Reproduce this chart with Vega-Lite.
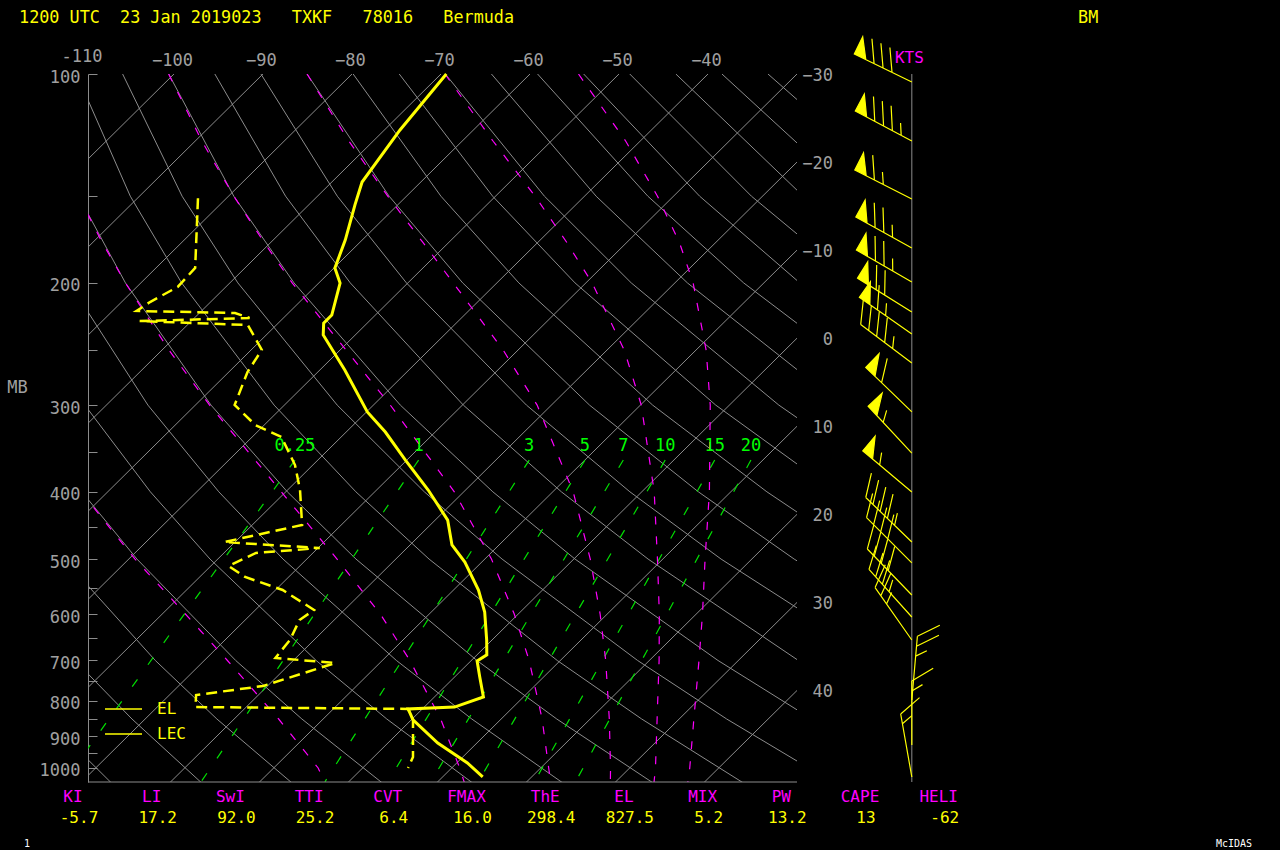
{
  "$schema": "https://vega.github.io/schema/vega-lite/v6.json",
  "width": 709,
  "height": 708,
  "autosize": {"type": "none"},
  "padding": {"left": 88, "top": 74, "right": 483, "bottom": 68},
  "background": "#000000",
  "config": {"view": {"stroke": null}, "text": {"font": "DejaVu Sans Mono"}},
  "datasets": {
    "iso": [
      {"T": -100, "p": 100}, {"T": -100, "p": 1050}, {"T": -90, "p": 100}, {"T": -90, "p": 1050},
      {"T": -80, "p": 100}, {"T": -80, "p": 1050}, {"T": -70, "p": 100}, {"T": -70, "p": 1050},
      {"T": -60, "p": 100}, {"T": -60, "p": 1050}, {"T": -50, "p": 100}, {"T": -50, "p": 1050},
      {"T": -40, "p": 100}, {"T": -40, "p": 1050}, {"T": -30, "p": 100}, {"T": -30, "p": 1050},
      {"T": -20, "p": 100}, {"T": -20, "p": 1050}, {"T": -10, "p": 100}, {"T": -10, "p": 1050},
      {"T": 0, "p": 100}, {"T": 0, "p": 1050}, {"T": 10, "p": 100}, {"T": 10, "p": 1050},
      {"T": 20, "p": 100}, {"T": 20, "p": 1050}, {"T": 30, "p": 100}, {"T": 30, "p": 1050},
      {"T": 40, "p": 100}, {"T": 40, "p": 1050}
    ],
    "isolab": [
      {"T": -30, "p": 100}, {"T": -20, "p": 133.9}, {"T": -10, "p": 179.4}, {"T": 0, "p": 240.3},
      {"T": 10, "p": 321.8}, {"T": 20, "p": 431.0}, {"T": 30, "p": 577.2}, {"T": 40, "p": 773.1}
    ],
    "dry": [
      {"c": -30, "p": 1050, "T": -26.59}, {"c": -30, "p": 850, "T": -41.03},
      {"c": -20, "p": 1050, "T": -16.45}, {"c": -20, "p": 850, "T": -31.48}, {"c": -20, "p": 700, "T": -44.53},
      {"c": -10, "p": 1050, "T": -6.31}, {"c": -10, "p": 850, "T": -21.94}, {"c": -10, "p": 700, "T": -35.5}, {"c": -10, "p": 500, "T": -57.28},
      {"c": 0, "p": 1050, "T": 3.84}, {"c": 0, "p": 850, "T": -12.39}, {"c": 0, "p": 700, "T": -26.47}, {"c": 0, "p": 500, "T": -49.08}, {"c": 0, "p": 400, "T": -62.91},
      {"c": 10, "p": 1050, "T": 13.98}, {"c": 10, "p": 850, "T": -2.85}, {"c": 10, "p": 700, "T": -17.43}, {"c": 10, "p": 500, "T": -40.87}, {"c": 10, "p": 400, "T": -55.21}, {"c": 10, "p": 300, "T": -72.42},
      {"c": 20, "p": 1050, "T": 24.12}, {"c": 20, "p": 850, "T": 6.7}, {"c": 20, "p": 700, "T": -8.41}, {"c": 20, "p": 500, "T": -32.67}, {"c": 20, "p": 400, "T": -47.52}, {"c": 20, "p": 300, "T": -65.33}, {"c": 20, "p": 200, "T": -88.05},
      {"c": 30, "p": 1050, "T": 34.26}, {"c": 30, "p": 850, "T": 16.25}, {"c": 30, "p": 700, "T": 0.63}, {"c": 30, "p": 500, "T": -24.47}, {"c": 30, "p": 400, "T": -39.82}, {"c": 30, "p": 300, "T": -58.24}, {"c": 30, "p": 200, "T": -81.73}, {"c": 30, "p": 150, "T": -96.85},
      {"c": 40, "p": 1050, "T": 44.4}, {"c": 40, "p": 850, "T": 25.79}, {"c": 40, "p": 700, "T": 9.66}, {"c": 40, "p": 500, "T": -16.26}, {"c": 40, "p": 400, "T": -32.12}, {"c": 40, "p": 300, "T": -51.15}, {"c": 40, "p": 200, "T": -75.42}, {"c": 40, "p": 150, "T": -91.03}, {"c": 40, "p": 100, "T": -110.95},
      {"c": 50, "p": 1050, "T": 54.54}, {"c": 50, "p": 850, "T": 35.34}, {"c": 50, "p": 700, "T": 18.69}, {"c": 50, "p": 500, "T": -8.06}, {"c": 50, "p": 400, "T": -24.43}, {"c": 50, "p": 300, "T": -44.06}, {"c": 50, "p": 200, "T": -69.1}, {"c": 50, "p": 150, "T": -85.21}, {"c": 50, "p": 100, "T": -105.77},
      {"c": 60, "p": 850, "T": 44.89}, {"c": 60, "p": 700, "T": 27.72}, {"c": 60, "p": 500, "T": 0.14}, {"c": 60, "p": 400, "T": -16.73}, {"c": 60, "p": 300, "T": -36.97}, {"c": 60, "p": 200, "T": -62.79}, {"c": 60, "p": 150, "T": -79.4}, {"c": 60, "p": 100, "T": -100.59},
      {"c": 70, "p": 850, "T": 54.43}, {"c": 70, "p": 700, "T": 36.75}, {"c": 70, "p": 500, "T": 8.35}, {"c": 70, "p": 400, "T": -9.03}, {"c": 70, "p": 300, "T": -29.89}, {"c": 70, "p": 200, "T": -56.47}, {"c": 70, "p": 150, "T": -73.58}, {"c": 70, "p": 100, "T": -95.41},
      {"c": 80, "p": 700, "T": 45.78}, {"c": 80, "p": 500, "T": 16.55}, {"c": 80, "p": 400, "T": -1.33}, {"c": 80, "p": 300, "T": -22.8}, {"c": 80, "p": 200, "T": -50.16}, {"c": 80, "p": 150, "T": -67.77}, {"c": 80, "p": 100, "T": -90.23},
      {"c": 90, "p": 700, "T": 54.81}, {"c": 90, "p": 500, "T": 24.76}, {"c": 90, "p": 400, "T": 6.36}, {"c": 90, "p": 300, "T": -15.71}, {"c": 90, "p": 200, "T": -43.84}, {"c": 90, "p": 150, "T": -61.95}, {"c": 90, "p": 100, "T": -85.05},
      {"c": 100, "p": 500, "T": 32.96}, {"c": 100, "p": 400, "T": 14.06}, {"c": 100, "p": 300, "T": -8.62}, {"c": 100, "p": 200, "T": -37.53}, {"c": 100, "p": 150, "T": -56.13}, {"c": 100, "p": 100, "T": -79.87},
      {"c": 110, "p": 500, "T": 41.16}, {"c": 110, "p": 400, "T": 21.76}, {"c": 110, "p": 300, "T": -1.53}, {"c": 110, "p": 200, "T": -31.22}, {"c": 110, "p": 150, "T": -50.32}, {"c": 110, "p": 100, "T": -74.69},
      {"c": 120, "p": 400, "T": 29.45}, {"c": 120, "p": 300, "T": 5.56}, {"c": 120, "p": 200, "T": -24.9}, {"c": 120, "p": 150, "T": -44.5}, {"c": 120, "p": 100, "T": -69.51},
      {"c": 130, "p": 300, "T": 12.65}, {"c": 130, "p": 200, "T": -18.59}, {"c": 130, "p": 150, "T": -38.69}, {"c": 130, "p": 100, "T": -64.33},
      {"c": 140, "p": 300, "T": 19.74}, {"c": 140, "p": 200, "T": -12.27}, {"c": 140, "p": 150, "T": -32.88}, {"c": 140, "p": 100, "T": -59.15},
      {"c": 150, "p": 300, "T": 26.83}, {"c": 150, "p": 200, "T": -5.96}, {"c": 150, "p": 150, "T": -27.06}, {"c": 150, "p": 100, "T": -53.97},
      {"c": 160, "p": 200, "T": 0.36}, {"c": 160, "p": 150, "T": -21.24}, {"c": 160, "p": 100, "T": -48.79},
      {"c": 170, "p": 200, "T": 6.67}, {"c": 170, "p": 150, "T": -15.42}, {"c": 170, "p": 100, "T": -43.61},
      {"c": 180, "p": 200, "T": 12.99}, {"c": 180, "p": 150, "T": -9.61}, {"c": 180, "p": 100, "T": -38.43},
      {"c": 190, "p": 200, "T": 19.31}, {"c": 190, "p": 150, "T": -3.79}, {"c": 190, "p": 100, "T": -33.26}
    ],
    "moist": [
      {"te": 273, "p": 1050, "T": -2.6}, {"te": 273, "p": 1000, "T": -5.0}, {"te": 273, "p": 850, "T": -15.0}, {"te": 273, "p": 700, "T": -27.4}, {"te": 273, "p": 600, "T": -37.4}, {"te": 273, "p": 500, "T": -49.3}, {"te": 273, "p": 400, "T": -63.0},
      {"te": 303, "p": 1050, "T": 13.1}, {"te": 303, "p": 1000, "T": 10.9}, {"te": 303, "p": 850, "T": 3.2}, {"te": 303, "p": 700, "T": -6.9}, {"te": 303, "p": 600, "T": -15.5}, {"te": 303, "p": 500, "T": -26.6}, {"te": 303, "p": 400, "T": -40.5}, {"te": 303, "p": 300, "T": -58.4}, {"te": 303, "p": 250, "T": -69.2}, {"te": 303, "p": 200, "T": -81.73}, {"te": 303, "p": 175, "T": -88.9}, {"te": 303, "p": 150, "T": -96.85},
      {"te": 333, "p": 1050, "T": 22.8}, {"te": 333, "p": 1000, "T": 20.9}, {"te": 333, "p": 850, "T": 14.6}, {"te": 333, "p": 700, "T": 6.5}, {"te": 333, "p": 600, "T": -0.45}, {"te": 333, "p": 500, "T": -9.25}, {"te": 333, "p": 400, "T": -21.06}, {"te": 333, "p": 300, "T": -38.1}, {"te": 333, "p": 250, "T": -49.3}, {"te": 333, "p": 200, "T": -63.0}, {"te": 333, "p": 175, "T": -70.7}, {"te": 333, "p": 150, "T": -79.4}, {"te": 333, "p": 125, "T": -89.22}, {"te": 333, "p": 100, "T": -100.6},
      {"te": 363, "p": 1050, "T": 29.5}, {"te": 363, "p": 1000, "T": 27.85}, {"te": 363, "p": 850, "T": 22.15}, {"te": 363, "p": 700, "T": 15.1}, {"te": 363, "p": 600, "T": 9.2}, {"te": 363, "p": 500, "T": 1.85}, {"te": 363, "p": 400, "T": -7.7}, {"te": 363, "p": 300, "T": -21.6}, {"te": 363, "p": 250, "T": -31.65}, {"te": 363, "p": 200, "T": -44.9}, {"te": 363, "p": 175, "T": -52.86}, {"te": 363, "p": 150, "T": -62.1}, {"te": 363, "p": 125, "T": -72.7}, {"te": 363, "p": 100, "T": -85.05},
      {"te": 393, "p": 1050, "T": 34.4}, {"te": 393, "p": 1000, "T": 32.9}, {"te": 393, "p": 850, "T": 27.52}, {"te": 393, "p": 700, "T": 21.1}, {"te": 393, "p": 600, "T": 15.85}, {"te": 393, "p": 500, "T": 9.4}, {"te": 393, "p": 400, "T": 1.4}, {"te": 393, "p": 300, "T": -9.9}, {"te": 393, "p": 250, "T": -18.05}, {"te": 393, "p": 200, "T": -29.3}, {"te": 393, "p": 175, "T": -36.7}, {"te": 393, "p": 150, "T": -45.55}, {"te": 393, "p": 125, "T": -56.5}, {"te": 393, "p": 100, "T": -69.55},
      {"te": 423, "p": 1050, "T": 38.2}, {"te": 423, "p": 1000, "T": 36.75}, {"te": 423, "p": 850, "T": 31.65}, {"te": 423, "p": 700, "T": 25.58}, {"te": 423, "p": 600, "T": 20.7}, {"te": 423, "p": 500, "T": 14.75}, {"te": 423, "p": 400, "T": 7.6}, {"te": 423, "p": 300, "T": -2.15}, {"te": 423, "p": 250, "T": -8.85}, {"te": 423, "p": 200, "T": -17.95}, {"te": 423, "p": 175, "T": -24.05}, {"te": 423, "p": 150, "T": -31.8}, {"te": 423, "p": 125, "T": -41.6}, {"te": 423, "p": 100, "T": -54.55}
    ],
    "mix": [
      {"w": "0.25", "p": 1047, "T": -32.0}, {"w": "0.25", "p": 360, "T": -42.57},
      {"w": "1", "p": 1047, "T": -16.58}, {"w": "1", "p": 360, "T": -28.68},
      {"w": "3", "p": 1047, "T": -2.67}, {"w": "3", "p": 360, "T": -16.25},
      {"w": "5", "p": 1047, "T": 4.38}, {"w": "5", "p": 360, "T": -9.99},
      {"w": "7", "p": 1047, "T": 9.23}, {"w": "7", "p": 360, "T": -5.68},
      {"w": "10", "p": 1047, "T": 14.56}, {"w": "10", "p": 360, "T": -0.97},
      {"w": "15", "p": 1047, "T": 20.87}, {"w": "15", "p": 360, "T": 4.59},
      {"w": "20", "p": 1047, "T": 25.49}, {"w": "20", "p": 360, "T": 8.66}
    ],
    "temp": [
      {"p": 100, "T": -69.4}, {"p": 120.4, "T": -68.25}, {"p": 143.1, "T": -66.6}, {"p": 154.4, "T": -64.8},
      {"p": 173.5, "T": -61.9}, {"p": 190.3, "T": -59.9}, {"p": 200.1, "T": -57.6}, {"p": 222.5, "T": -54.9},
      {"p": 228.5, "T": -54.9}, {"p": 237.7, "T": -53.6}, {"p": 267, "T": -47.2}, {"p": 306.9, "T": -39.9},
      {"p": 328, "T": -35.6}, {"p": 359.8, "T": -30.2}, {"p": 397.6, "T": -24.2}, {"p": 439.3, "T": -18.6},
      {"p": 477, "T": -15.3}, {"p": 505, "T": -11.9}, {"p": 554, "T": -7.2}, {"p": 596, "T": -4.0},
      {"p": 654, "T": -0.6}, {"p": 687, "T": 1.1}, {"p": 701, "T": 0.7}, {"p": 739, "T": 2.8},
      {"p": 790, "T": 5.5}, {"p": 817, "T": 3.4}, {"p": 822, "T": -1.6}, {"p": 852.6, "T": 0.2},
      {"p": 920.4, "T": 5.6}, {"p": 983.5, "T": 11.2}, {"p": 1030, "T": 14.5}
    ],
    "dew": [
      {"p": 151, "T": -83.2}, {"p": 190.3, "T": -75.6}, {"p": 202.7, "T": -75.4}, {"p": 213.1, "T": -76.8},
      {"p": 219.5, "T": -77.3}, {"p": 221, "T": -66.0}, {"p": 224.7, "T": -63.8}, {"p": 227, "T": -75.8},
      {"p": 230, "T": -63.2}, {"p": 249.8, "T": -58.8}, {"p": 268.8, "T": -57.9}, {"p": 299.9, "T": -55.6},
      {"p": 320.5, "T": -51.0}, {"p": 333.5, "T": -46.7}, {"p": 366, "T": -42.0}, {"p": 397.6, "T": -38.6},
      {"p": 446.5, "T": -34.4}, {"p": 472.5, "T": -41.2}, {"p": 482, "T": -29.8}, {"p": 490, "T": -36.4},
      {"p": 511.6, "T": -38.0}, {"p": 530.6, "T": -34.9}, {"p": 554, "T": -29.2}, {"p": 592, "T": -23.4},
      {"p": 612, "T": -23.9}, {"p": 654, "T": -22.7}, {"p": 694, "T": -22.3}, {"p": 706, "T": -15.0},
      {"p": 761.8, "T": -20.5}, {"p": 785, "T": -27.0}, {"p": 817, "T": -25.7}, {"p": 822, "T": -1.6},
      {"p": 852.6, "T": 0.2}, {"p": 964, "T": 4.4}, {"p": 1000, "T": 5.1}
    ],
    "wind": [
      {"p": 102.7, "dir": 296, "spd": 80}, {"p": 124.9, "dir": 298, "spd": 85}, {"p": 151.4, "dir": 297, "spd": 65},
      {"p": 178.1, "dir": 299, "spd": 75}, {"p": 199.4, "dir": 300, "spd": 75}, {"p": 220.3, "dir": 302, "spd": 70},
      {"p": 237.0, "dir": 305, "spd": 65}, {"p": 260.9, "dir": 307, "spd": 45}, {"p": 306.8, "dir": 314, "spd": 60},
      {"p": 351.7, "dir": 317, "spd": 55}, {"p": 400.2, "dir": 310, "spd": 55}, {"p": 472.4, "dir": 314, "spd": 45},
      {"p": 506.4, "dir": 315, "spd": 40}, {"p": 563.3, "dir": 316, "spd": 40}, {"p": 605.9, "dir": 318, "spd": 35},
      {"p": 654.0, "dir": 325, "spd": 25}, {"p": 798, "dir": 5, "spd": 25}, {"p": 926.7, "dir": 0, "spd": 15},
      {"p": 1030.4, "dir": 350, "spd": 15}
    ],
    "idx": [
      {"i": 0, "k": "KI", "v": "-5.7"}, {"i": 1, "k": "LI", "v": "17.2"}, {"i": 2, "k": "SwI", "v": "92.0"},
      {"i": 3, "k": "TTI", "v": "25.2"}, {"i": 4, "k": "CVT", "v": "6.4"}, {"i": 5, "k": "FMAX", "v": "16.0"},
      {"i": 6, "k": "ThE", "v": "298.4"}, {"i": 7, "k": "EL", "v": "827.5"}, {"i": 8, "k": "MIX", "v": "5.2"},
      {"i": 9, "k": "PW", "v": "13.2"}, {"i": 10, "k": "CAPE", "v": "13"}, {"i": 11, "k": "HELI", "v": "-62"}
    ]
  },
  "resolve": {"scale": {"x": "independent"}},
  "layer": [
    {
      "layer": [
        {
          "data": {"name": "iso"},
          "transform": [{"calculate": "datum.T - 78.8 * (log(datum.p) / LN10 - 2)", "as": "xs"}],
          "mark": {"type": "line", "clip": true, "color": "#8c8c8c", "strokeWidth": 1},
          "encoding": {
            "x": {"field": "xs", "type": "quantitative", "scale": {"domain": [-109.66, -30], "nice": false, "zero": false},
              "axis": {"orient": "top", "values": [-100, -90, -80, -70, -60, -50, -40], "format": "d", "ticks": false, "domain": false, "grid": false,
                "labelColor": "#a0a0a0", "labelFont": "DejaVu Sans Mono", "labelFontSize": 17, "labelPadding": 5, "labelOffset": -2,
                "labelFlush": false, "labelOverlap": false, "title": null}},
            "y": {"field": "p", "type": "quantitative", "scale": {"type": "log", "domain": [100, 1047.6], "reverse": true, "nice": false},
              "axis": {"orient": "left", "values": [100, 150, 200, 250, 300, 350, 400, 450, 500, 550, 600, 650, 700, 750, 800, 850, 900, 950, 1000],
                "labelExpr": "datum.value % 100 == 0 ? format(datum.value, 'd') : ''", "tickSize": -9, "tickColor": "#8c8c8c", "domainColor": "#8c8c8c",
                "labelColor": "#a0a0a0", "labelFont": "DejaVu Sans Mono", "labelFontSize": 17, "labelPadding": 17, "labelOffset": 3, "grid": false,
                "labelFlush": false, "labelOverlap": false, "title": "MB", "titleAngle": 0, "titleX": -71, "titleY": 313, "titleAlign": "center",
                "titleBaseline": "middle", "titleColor": "#a0a0a0", "titleFont": "DejaVu Sans Mono", "titleFontSize": 17, "titleFontWeight": "normal"}},
            "detail": {"field": "T", "type": "nominal"},
            "order": {"field": "p", "type": "quantitative"}
          }
        },
        {
          "data": {"name": "dry"},
          "transform": [{"calculate": "datum.T - 78.8 * (log(datum.p) / LN10 - 2)", "as": "xs"}],
          "mark": {"type": "line", "clip": true, "color": "#8c8c8c", "strokeWidth": 1},
          "encoding": {
            "x": {"field": "xs", "type": "quantitative", "scale": {"domain": [-109.66, -30], "nice": false, "zero": false}},
            "y": {"field": "p", "type": "quantitative", "scale": {"type": "log", "domain": [100, 1047.6], "reverse": true, "nice": false}},
            "detail": {"field": "c", "type": "nominal"},
            "order": {"field": "p", "type": "quantitative"}
          }
        },
        {
          "data": {"name": "mix"},
          "transform": [{"calculate": "datum.T - 78.8 * (log(datum.p) / LN10 - 2)", "as": "xs"}],
          "mark": {"type": "line", "clip": true, "color": "#00e000", "strokeWidth": 1.2, "strokeDash": [9, 18]},
          "encoding": {
            "x": {"field": "xs", "type": "quantitative", "scale": {"domain": [-109.66, -30], "nice": false, "zero": false}},
            "y": {"field": "p", "type": "quantitative", "scale": {"type": "log", "domain": [100, 1047.6], "reverse": true, "nice": false}},
            "detail": {"field": "w", "type": "nominal"},
            "order": {"field": "p", "type": "quantitative"}
          }
        },
        {
          "data": {"name": "moist"},
          "transform": [{"calculate": "datum.T - 78.8 * (log(datum.p) / LN10 - 2)", "as": "xs"}],
          "mark": {"type": "line", "clip": true, "color": "#ff00ff", "strokeWidth": 1.2, "strokeDash": [8, 12]},
          "encoding": {
            "x": {"field": "xs", "type": "quantitative", "scale": {"domain": [-109.66, -30], "nice": false, "zero": false}},
            "y": {"field": "p", "type": "quantitative", "scale": {"type": "log", "domain": [100, 1047.6], "reverse": true, "nice": false}},
            "detail": {"field": "te", "type": "nominal"},
            "order": {"field": "p", "type": "quantitative"}
          }
        },
        {
          "data": {"name": "isolab"},
          "transform": [{"calculate": "datum.T - 78.8 * (log(datum.p) / LN10 - 2)", "as": "xs"}],
          "mark": {"type": "text", "color": "#a0a0a0", "fontSize": 17, "font": "DejaVu Sans Mono", "align": "right", "baseline": "middle", "dx": 36, "dy": 2},
          "encoding": {
            "x": {"field": "xs", "type": "quantitative", "scale": {"domain": [-109.66, -30], "nice": false, "zero": false}},
            "y": {"field": "p", "type": "quantitative", "scale": {"type": "log", "domain": [100, 1047.6], "reverse": true, "nice": false}},
            "text": {"field": "T", "type": "quantitative", "format": "d"}
          }
        },
        {
          "data": {"values": [{"t": "-110"}]},
          "mark": {"type": "text", "color": "#a0a0a0", "fontSize": 17, "font": "DejaVu Sans Mono", "align": "center", "baseline": "middle", "dx": -3, "dy": -3},
          "encoding": {
            "x": {"datum": -110, "type": "quantitative", "scale": {"domain": [-109.66, -30], "nice": false, "zero": false}},
            "y": {"datum": 95.6, "type": "quantitative", "scale": {"type": "log", "domain": [100, 1047.6], "reverse": true, "nice": false}},
            "text": {"field": "t"}
          }
        },
        {
          "data": {"name": "mix"},
          "transform": [{"filter": "datum.p < 500"}, {"calculate": "datum.T - 78.8 * (log(datum.p) / LN10 - 2)", "as": "xs"}],
          "mark": {"type": "text", "color": "#00ff00", "fontSize": 17, "font": "DejaVu Sans Mono", "align": "center", "baseline": "middle", "dy": -14},
          "encoding": {
            "x": {"field": "xs", "type": "quantitative", "scale": {"domain": [-109.66, -30], "nice": false, "zero": false}},
            "y": {"field": "p", "type": "quantitative", "scale": {"type": "log", "domain": [100, 1047.6], "reverse": true, "nice": false}},
            "text": {"field": "w", "type": "nominal"}
          }
        },
        {
          "data": {"values": [{}]},
          "mark": {"type": "rule", "color": "#ffff00", "strokeWidth": 1.5},
          "encoding": {
            "x": {"datum": -107.75, "type": "quantitative", "scale": {"domain": [-109.66, -30], "nice": false, "zero": false}},
            "x2": {"datum": -103.59},
            "y": {"datum": 822.3, "type": "quantitative", "scale": {"type": "log", "domain": [100, 1047.6], "reverse": true, "nice": false}}
          }
        },
        {
          "data": {"values": [{}]},
          "mark": {"type": "rule", "color": "#ffff00", "strokeWidth": 1.5},
          "encoding": {
            "x": {"datum": -107.75, "type": "quantitative", "scale": {"domain": [-109.66, -30], "nice": false, "zero": false}},
            "x2": {"datum": -103.59},
            "y": {"datum": 893.4, "type": "quantitative", "scale": {"type": "log", "domain": [100, 1047.6], "reverse": true, "nice": false}}
          }
        },
        {
          "data": {"values": [{"t": "EL"}]},
          "mark": {"type": "text", "color": "#ffff00", "fontSize": 16, "font": "DejaVu Sans Mono", "align": "left", "baseline": "middle"},
          "encoding": {
            "x": {"datum": -101.9, "type": "quantitative", "scale": {"domain": [-109.66, -30], "nice": false, "zero": false}},
            "y": {"datum": 822.3, "type": "quantitative", "scale": {"type": "log", "domain": [100, 1047.6], "reverse": true, "nice": false}},
            "text": {"field": "t"}
          }
        },
        {
          "data": {"values": [{"t": "LEC"}]},
          "mark": {"type": "text", "color": "#ffff00", "fontSize": 16, "font": "DejaVu Sans Mono", "align": "left", "baseline": "middle"},
          "encoding": {
            "x": {"datum": -101.9, "type": "quantitative", "scale": {"domain": [-109.66, -30], "nice": false, "zero": false}},
            "y": {"datum": 893.4, "type": "quantitative", "scale": {"type": "log", "domain": [100, 1047.6], "reverse": true, "nice": false}},
            "text": {"field": "t"}
          }
        },
        {
          "data": {"name": "temp"},
          "transform": [{"calculate": "datum.T - 78.8 * (log(datum.p) / LN10 - 2)", "as": "xs"}],
          "mark": {"type": "line", "color": "#ffff00", "strokeWidth": 3},
          "encoding": {
            "x": {"field": "xs", "type": "quantitative", "scale": {"domain": [-109.66, -30], "nice": false, "zero": false}},
            "y": {"field": "p", "type": "quantitative", "scale": {"type": "log", "domain": [100, 1047.6], "reverse": true, "nice": false}},
            "order": {"field": "p", "type": "quantitative"}
          }
        },
        {
          "data": {"name": "dew"},
          "transform": [{"calculate": "datum.T - 78.8 * (log(datum.p) / LN10 - 2)", "as": "xs"}],
          "mark": {"type": "line", "color": "#ffff00", "strokeWidth": 2.5, "strokeDash": [11, 6]},
          "encoding": {
            "x": {"field": "xs", "type": "quantitative", "scale": {"domain": [-109.66, -30], "nice": false, "zero": false}},
            "y": {"field": "p", "type": "quantitative", "scale": {"type": "log", "domain": [100, 1047.6], "reverse": true, "nice": false}},
            "order": {"field": "p", "type": "quantitative"}
          }
        },
        {
          "data": {"values": [{}]},
          "mark": {"type": "rule", "color": "#8c8c8c", "strokeWidth": 1},
          "encoding": {
            "y": {"datum": 1047.6, "type": "quantitative", "scale": {"type": "log", "domain": [100, 1047.6], "reverse": true, "nice": false}}
          }
        },
        {
          "data": {"values": [{}]},
          "mark": {"type": "rule", "color": "#8c8c8c", "strokeWidth": 1},
          "encoding": {
            "x": {"datum": -17.1, "type": "quantitative", "scale": {"domain": [-109.66, -30], "nice": false, "zero": false}}
          }
        },
        {
          "data": {"name": "wind"},
          "mark": {"type": "point", "filled": true, "fill": "#ffff00", "stroke": "#ffff00", "strokeWidth": 1.2, "opacity": 1, "size": 16384},
          "encoding": {
            "x": {"datum": -17.1, "type": "quantitative", "scale": {"domain": [-109.66, -30], "nice": false, "zero": false}},
            "y": {"field": "p", "type": "quantitative", "scale": {"type": "log", "domain": [100, 1047.6], "reverse": true, "nice": false}},
            "angle": {"field": "dir", "type": "quantitative", "scale": null},
            "shape": {"field": "spd", "type": "nominal", "legend": null,
              "scale": {"domain": [10, 15, 25, 35, 40, 45, 55, 60, 65, 70, 75, 80, 85],
                "range": [
                  "M0,0L0,-1M0,-1L0.334,-1.2",
                  "M0,0L0,-1M0,-1L0.334,-1.2M0,-0.844L0.167,-0.944",
                  "M0,0L0,-1M0,-1L0.334,-1.2M0,-0.844L0.334,-1.044M0,-0.688L0.167,-0.788",
                  "M0,0L0,-1M0,-1L0.334,-1.2M0,-0.844L0.334,-1.044M0,-0.688L0.334,-0.888M0,-0.531L0.167,-0.631",
                  "M0,0L0,-1M0,-1L0.334,-1.2M0,-0.844L0.334,-1.044M0,-0.688L0.334,-0.888M0,-0.531L0.334,-0.731",
                  "M0,0L0,-1M0,-1L0.334,-1.2M0,-0.844L0.334,-1.044M0,-0.688L0.334,-0.888M0,-0.531L0.334,-0.731M0,-0.375L0.167,-0.475",
                  "M0,0L0,-1M0,-1L0.3,-1L0,-0.8ZM0,-0.656L0.167,-0.756",
                  "M0,0L0,-1M0,-1L0.3,-1L0,-0.8ZM0,-0.656L0.334,-0.856",
                  "M0,0L0,-1M0,-1L0.3,-1L0,-0.8ZM0,-0.656L0.334,-0.856M0,-0.5L0.167,-0.6",
                  "M0,0L0,-1M0,-1L0.3,-1L0,-0.8ZM0,-0.656L0.334,-0.856M0,-0.5L0.334,-0.7",
                  "M0,0L0,-1M0,-1L0.3,-1L0,-0.8ZM0,-0.656L0.334,-0.856M0,-0.5L0.334,-0.7M0,-0.344L0.167,-0.444",
                  "M0,0L0,-1M0,-1L0.3,-1L0,-0.8ZM0,-0.656L0.334,-0.856M0,-0.5L0.334,-0.7M0,-0.344L0.334,-0.544",
                  "M0,0L0,-1M0,-1L0.3,-1L0,-0.8ZM0,-0.656L0.334,-0.856M0,-0.5L0.334,-0.7M0,-0.344L0.334,-0.544M0,-0.188L0.167,-0.288"
                ]}}
          }
        },
        {
          "data": {"values": [{"t": "KTS"}]},
          "mark": {"type": "text", "color": "#ff00ff", "fontSize": 16, "font": "DejaVu Sans Mono", "align": "left", "baseline": "middle"},
          "encoding": {
            "x": {"datum": -19.0, "type": "quantitative", "scale": {"domain": [-109.66, -30], "nice": false, "zero": false}},
            "y": {"datum": 94.7, "type": "quantitative", "scale": {"type": "log", "domain": [100, 1047.6], "reverse": true, "nice": false}},
            "text": {"field": "t"}
          }
        },
        {
          "data": {"values": [{"t": "1200 UTC\u00a0\u00a023 Jan 2019023\u00a0\u00a0\u00a0TXKF\u00a0\u00a0\u00a078016\u00a0\u00a0\u00a0Bermuda"}]},
          "mark": {"type": "text", "color": "#ffff00", "fontSize": 16.8, "font": "DejaVu Sans Mono", "align": "left", "baseline": "middle"},
          "encoding": {
            "x": {"datum": -117.41, "type": "quantitative", "scale": {"domain": [-109.66, -30], "nice": false, "zero": false}},
            "y": {"datum": 83.1, "type": "quantitative", "scale": {"type": "log", "domain": [100, 1047.6], "reverse": true, "nice": false}},
            "text": {"field": "t"}
          }
        },
        {
          "data": {"values": [{"t": "BM"}]},
          "mark": {"type": "text", "color": "#ffff00", "fontSize": 16.8, "font": "DejaVu Sans Mono", "align": "left", "baseline": "middle"},
          "encoding": {
            "x": {"datum": 1.58, "type": "quantitative", "scale": {"domain": [-109.66, -30], "nice": false, "zero": false}},
            "y": {"datum": 83.1, "type": "quantitative", "scale": {"type": "log", "domain": [100, 1047.6], "reverse": true, "nice": false}},
            "text": {"field": "t"}
          }
        },
        {
          "data": {"values": [{"t": "1"}]},
          "mark": {"type": "text", "color": "#ffffff", "fontSize": 10, "font": "DejaVu Sans Mono", "align": "center", "baseline": "middle"},
          "encoding": {
            "x": {"datum": -116.51, "type": "quantitative", "scale": {"domain": [-109.66, -30], "nice": false, "zero": false}},
            "y": {"datum": 1287, "type": "quantitative", "scale": {"type": "log", "domain": [100, 1047.6], "reverse": true, "nice": false}},
            "text": {"field": "t"}
          }
        },
        {
          "data": {"values": [{"t": "McIDAS"}]},
          "mark": {"type": "text", "color": "#ffffff", "fontSize": 10, "font": "DejaVu Sans Mono", "align": "center", "baseline": "middle"},
          "encoding": {
            "x": {"datum": 19.1, "type": "quantitative", "scale": {"domain": [-109.66, -30], "nice": false, "zero": false}},
            "y": {"datum": 1287, "type": "quantitative", "scale": {"type": "log", "domain": [100, 1047.6], "reverse": true, "nice": false}},
            "text": {"field": "t"}
          }
        }
      ]
    },
    {
      "data": {"name": "idx"},
      "layer": [
        {
          "mark": {"type": "text", "color": "#ff00ff", "fontSize": 16, "font": "DejaVu Sans Mono", "align": "center", "baseline": "middle"},
          "encoding": {
            "x": {"field": "i", "type": "quantitative", "scale": {"domain": [0.1906, 9.1995], "nice": false, "zero": false}, "axis": null},
            "y": {"datum": 1102.8, "type": "quantitative", "scale": {"type": "log", "domain": [100, 1047.6], "reverse": true, "nice": false}},
            "text": {"field": "k"}
          }
        },
        {
          "mark": {"type": "text", "color": "#ffff00", "fontSize": 16, "font": "DejaVu Sans Mono", "align": "center", "baseline": "middle", "dx": 6},
          "encoding": {
            "x": {"field": "i", "type": "quantitative", "scale": {"domain": [0.1906, 9.1995], "nice": false, "zero": false}, "axis": null},
            "y": {"datum": 1178.6, "type": "quantitative", "scale": {"type": "log", "domain": [100, 1047.6], "reverse": true, "nice": false}},
            "text": {"field": "v"}
          }
        }
      ]
    }
  ]
}
